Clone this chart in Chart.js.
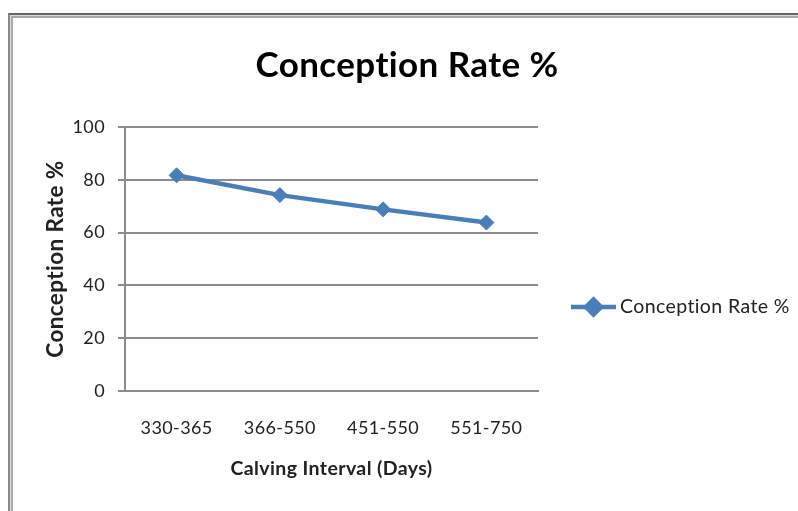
<!DOCTYPE html>
<html lang="en">
<head>
    <meta charset="UTF-8">
    <title>Conception Rate %</title>
    <script src="https://cdn.jsdelivr.net/npm/chart.js"></script>
    <style>
        body, html {
            margin: 0;
            padding: 0;
            width: 798px;
            height: 511px;
            overflow: hidden;
            background: #fff;
            font-family: Lato, sans-serif;
        }
        .frame {
            position: absolute;
            left: 8px;
            top: 13px;
            width: 900px;
            height: 600px;
            border-top: 2px solid #666;
            border-left: 2px solid #888;
            box-shadow: inset 1px 1px 0 #ddd, inset 3px 3px 0 #aaa;
        }
        canvas {
            position: absolute;
            left: 0;
            top: 0;
        }
    </style>
</head>
<body>
    <div class="frame"></div>
    <canvas id="rateChart" width="798" height="511"></canvas>

    <script>
        const chartTitle = 'Conception Rate %';
        const intervals = ['330-365', '366-550', '451-550', '551-750'];
        const conceptionRate = [81.7, 74.2, 68.8, 63.8];
        const yTicks = [0, 20, 40, 60, 80, 100];

        const lineBlue = '#4a7ebb';
        const gridGrey = '#8c8c8c';

        // a little letter spacing keeps Lato from joining "ti" into a ligature
        const noLigatures = {
            id: 'noLigatures',
            beforeDraw(chart) { chart.ctx.letterSpacing = '0.4px'; }
        };

        // title and legend are painted by hand so they can sit where Excel put them
        const decorations = {
            id: 'decorations',
            afterDraw(chart) {
                const ctx = chart.ctx;
                ctx.save();
                ctx.fillStyle = '#000';
                ctx.textAlign = 'center';
                ctx.textBaseline = 'middle';
                ctx.font = 'bold 35px Lato';
                ctx.fillText(chartTitle, 407, 66);

                // legend
                const ly = 307;
                ctx.strokeStyle = lineBlue;
                ctx.lineWidth = 4.5;
                ctx.beginPath();
                ctx.moveTo(571, ly);
                ctx.lineTo(616, ly);
                ctx.stroke();
                Chart.helpers.drawPoint(ctx, { pointStyle: 'rectRot', radius: 7.5, borderWidth: 1 }, 593.5, ly);
                ctx.fillStyle = lineBlue;
                ctx.fill();
                ctx.fillStyle = '#222';
                ctx.textAlign = 'left';
                ctx.font = '19.5px Lato';
                ctx.fillText(chart.data.datasets[0].label, 620, ly);
                ctx.restore();
            }
        };

        const ctx = document.getElementById('rateChart').getContext('2d');
        new Chart(ctx, {
            type: 'line',
            data: {
                labels: intervals,
                datasets: [{
                    label: chartTitle,
                    data: conceptionRate,
                    borderColor: lineBlue,
                    backgroundColor: lineBlue,
                    borderWidth: 4.5,
                    pointStyle: 'rectRot',
                    pointRadius: 7.5,
                    pointBorderWidth: 1,
                    tension: 0
                }]
            },
            options: {
                responsive: false,
                animation: false,
                layout: { padding: { top: 127, right: 260, bottom: 20, left: 0 } },
                plugins: {
                    legend: { display: false },
                    title: { display: false },
                    tooltip: { enabled: false }
                },
                scales: {
                    x: {
                        offset: true,
                        grid: { display: false, drawTicks: false },
                        border: { display: true, color: gridGrey, width: 2 },
                        ticks: { color: '#222', font: { family: 'Lato', size: 18 }, padding: 26, maxRotation: 0 },
                        title: {
                            display: true,
                            text: 'Calving Interval (Days)',
                            color: '#222',
                            font: { family: 'Lato', size: 19.5, weight: 'bold' },
                            padding: { top: 0, bottom: 11 }
                        },
                        afterFit: scale => { scale.height = 100; }
                    },
                    y: {
                        min: 0,
                        max: 100,
                        afterBuildTicks: scale => { scale.ticks = yTicks.map(v => ({ value: v })); },
                        grid: { color: gridGrey, lineWidth: 2, tickLength: 7 },
                        border: { display: true, color: gridGrey, width: 2 },
                        ticks: { color: '#222', font: { family: 'Lato', size: 18 }, padding: 13 },
                        title: {
                            display: true,
                            text: 'Conception Rate %',
                            color: '#222',
                            font: { family: 'Lato', size: 22.5, weight: 'bold' },
                            padding: { top: 42, bottom: 0 }
                        },
                        afterFit: scale => { scale.width = 125; }
                    }
                }
            },
            plugins: [noLigatures, decorations]
        });
    </script>
</body>
</html>
